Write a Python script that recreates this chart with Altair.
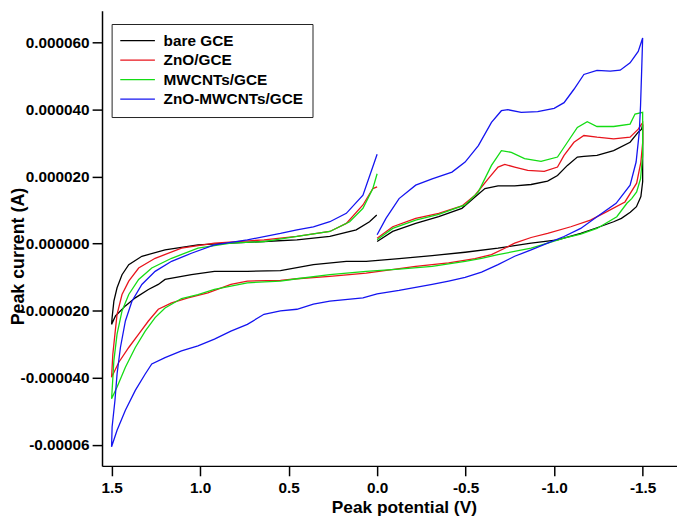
import altair as alt
import pandas as pd

series_names = ["bare GCE", "ZnO/GCE", "MWCNTs/GCE", "ZnO-MWCNTs/GCE"]
series_colors = ["#000000", "#e8141c", "#14dc14", "#1414f0"]

x_ticks = [1.5, 1.0, 0.5, 0.0, -0.5, -1.0, -1.5]
y_ticks = [0.00006, 0.00004, 0.00002, 0.0, -0.00002, -0.00004, -0.00006]

# potential (V) and current (microampere), in scan order
bare_v = [0.0, -0.088, -0.218, -0.348, -0.479, -0.553, -0.609, -0.683, -0.777, -0.870, -0.963, -1.019, -1.075,
          -1.131, -1.168, -1.242, -1.336, -1.429, -1.475, -1.494, -1.5,
          -1.5, -1.49, -1.465, -1.43, -1.38, -1.336, -1.242, -1.150, -1.019, -0.870, -0.683, -0.497, -0.311,
          -0.124, 0.062, 0.174, 0.360, 0.546, 0.733, 0.919, 1.049, 1.198, 1.236, 1.292, 1.366, 1.422, 1.478, 1.5,
          1.497, 1.487, 1.469, 1.441, 1.403, 1.329, 1.198, 1.012, 0.826, 0.639, 0.453, 0.267, 0.118, 0.043, 0.002]
bare_i = [0.6, 3.6, 6.0, 8.0, 10.5, 13.9, 16.4, 17.2, 17.2, 17.6, 18.6, 20.3, 23.3,
          25.8, 26.0, 26.3, 27.7, 30.2, 33.2, 34.1, 35.5,
          18.4, 14.0, 11.0, 9.3, 7.5, 6.5, 4.7, 3.0, 1.1, 0.1, -1.4, -2.6, -3.6,
          -4.5, -5.3, -5.3, -6.3, -8.1, -8.3, -8.3, -9.3, -10.7, -12.2, -13.7, -16.2, -18.6, -21.6, -24.1,
          -22.1, -17.2, -13.2, -9.3, -6.3, -3.8, -1.9, -0.4, 0.1, 0.6, 1.1, 2.1, 4.1, 6.5, 8.5]

zno_v = [0.0, -0.088, -0.218, -0.348, -0.479, -0.553, -0.627, -0.683, -0.721, -0.777, -0.851, -0.944, -1.019,
         -1.056, -1.112, -1.168, -1.242, -1.336, -1.429, -1.475, -1.494, -1.5,
         -1.5, -1.49, -1.466, -1.40, -1.298, -1.205, -1.094, -0.963, -0.870, -0.777, -0.721, -0.646, -0.553,
         -0.404, -0.218, 0.062, 0.267, 0.453, 0.546, 0.733, 0.826, 0.956, 1.068, 1.161, 1.236, 1.292, 1.347,
         1.403, 1.459, 1.5,
         1.493, 1.481, 1.469, 1.441, 1.403, 1.347, 1.254, 1.105, 0.919, 0.639, 0.453, 0.267, 0.174, 0.080,
         0.024, 0.0]
zno_i = [1.6, 5.0, 7.5, 9.0, 11.2, 14.4, 19.3, 22.8, 23.6, 22.8, 21.8, 21.5, 22.8,
         26.3, 30.2, 32.2, 31.7, 31.2, 31.7, 34.1, 35.6, 36.0,
         30.0, 24.3, 18.0, 12.4, 9.5, 7.0, 5.0, 3.0, 1.8, 0.1, -1.4, -3.3, -4.5,
         -5.8, -6.8, -8.8, -9.8, -10.5, -11.0, -11.2, -12.2, -14.7, -16.2, -17.7, -19.6, -23.1, -27.0,
         -31.0, -35.4, -39.9,
         -33.0, -27.0, -21.1, -15.2, -11.2, -7.3, -4.4, -1.4, 0.1, 1.1, 2.1, 3.6, 6.0, 11.5,
         16.4, 16.9]

mw_v = [0.0, -0.088, -0.218, -0.348, -0.497, -0.572, -0.646, -0.702, -0.758, -0.833, -0.926, -1.019, -1.075,
        -1.131, -1.187, -1.242, -1.336, -1.429, -1.457, -1.5,
        -1.5, -1.488, -1.466, -1.438, -1.411, -1.354, -1.242, -1.150, -1.056, -0.963, -0.870, -0.683, -0.590,
        -0.497, -0.311, -0.124, 0.062, 0.267, 0.453, 0.546, 0.733, 0.826, 0.919, 1.012, 1.105, 1.198, 1.254,
        1.310, 1.366, 1.422, 1.469, 1.5,
        1.497, 1.487, 1.469, 1.441, 1.403, 1.347, 1.273, 1.161, 1.012, 0.826, 0.639, 0.453, 0.267, 0.155,
        0.080, 0.024, 0.0]
mw_i = [1.1, 4.5, 7.0, 8.7, 11.5, 15.4, 23.3, 27.7, 27.2, 25.3, 24.5, 25.8, 30.2,
        34.6, 36.3, 34.9, 34.9, 35.6, 38.6, 39.1,
        26.3, 19.3, 15.4, 13.4, 12.0, 8.0, 4.5, 2.8, 1.6, 0.1, -1.4, -3.3, -4.4,
        -5.3, -6.8, -7.6, -8.3, -9.3, -10.5, -11.2, -11.7, -12.7, -13.7, -15.2, -16.4, -19.2, -22.1,
        -26.1, -31.0, -36.9, -42.8, -46.3,
        -43.8, -34.9, -27.0, -20.1, -15.2, -10.7, -7.3, -4.4, -1.4, 0.1, 0.6, 2.1, 3.6, 6.5,
        10.5, 16.4, 20.8]

comp_v = [0.0, -0.050, -0.124, -0.218, -0.311, -0.423, -0.497, -0.572, -0.646, -0.702, -0.739, -0.814, -0.907,
          -1.000, -1.056, -1.112, -1.168, -1.242, -1.317, -1.373, -1.429, -1.475, -1.5,
          -1.494, -1.488, -1.481, -1.463, -1.429, -1.35, -1.242, -1.150, -1.056, -0.963, -0.870, -0.777,
          -0.683, -0.590, -0.497, -0.404, -0.311, -0.124, 0.0, 0.080, 0.267, 0.360, 0.453, 0.546, 0.639,
          0.733, 0.826, 0.919, 1.012, 1.105, 1.198, 1.273, 1.310, 1.366, 1.422, 1.469, 1.5,
          1.497, 1.481, 1.469, 1.450, 1.422, 1.385, 1.329, 1.254, 1.161, 1.049, 0.919, 0.733, 0.546, 0.453,
          0.360, 0.267, 0.174, 0.080, 0.015, 0.0]
comp_i = [2.6, 7.5, 13.4, 17.4, 19.3, 21.3, 24.3, 29.2, 36.1, 39.6, 39.9, 39.1, 39.3,
          40.3, 42.0, 46.0, 50.4, 51.6, 51.4, 51.7, 53.9, 57.3, 61.3,
          50.9, 41.1, 33.2, 24.3, 17.4, 12.0, 8.0, 4.5, 2.1, 0.1, -1.9, -3.8,
          -6.3, -8.5, -10.1, -11.2, -12.2, -14.0, -15.0, -16.2, -17.2, -18.1, -19.6, -20.1, -21.1,
          -24.1, -26.1, -28.5, -30.5, -32.0, -34.0, -35.9, -38.9, -43.8, -49.7, -55.7, -60.6,
          -54.7, -46.8, -38.9, -31.0, -23.1, -17.2, -12.2, -8.3, -5.3, -2.9, -0.4, 1.1, 3.0, 4.1,
          5.0, 6.5, 9.0, 14.4, 24.3, 26.6]

rows = []
for name, vs, cs in zip(series_names, [bare_v, zno_v, mw_v, comp_v], [bare_i, zno_i, mw_i, comp_i]):
    for k, (v, c) in enumerate(zip(vs, cs)):
        rows.append({"series": name, "idx": k, "potential": v, "current": c * 1e-6})
df = pd.DataFrame(rows)

FONT = "Liberation Sans"

x_axis = alt.Axis(
    values=x_ticks,
    title="Peak potential (V)",
    labelExpr="(datum.value < -0.01 ? '-' : '') + format(abs(datum.value), '.1f')",
    labelFontSize=15.5, labelPadding=5, tickSize=10,
    titleFontSize=17.5, titleX=305, titleY=47, titleBaseline="alphabetic", titleAlign="center",
)
y_axis = alt.Axis(
    values=y_ticks,
    title="Peak current (A)",
    labelExpr="abs(datum.value) < 1e-9 ? '0.000000' : (datum.value < -5.5e-5 ? '-0.00006' : "
              "(datum.value < 0 ? '-' : '') + format(abs(datum.value), '.6f'))",
    labelFontSize=15.5, labelPadding=3, tickSize=10,
    titleFontSize=18, titleAngle=270, titleBaseline="top", titleX=-93, titleY=248, titleAlign="center",
)

chart = alt.Chart(df).mark_line(strokeWidth=1.3).encode(
    x=alt.X("potential:Q", scale=alt.Scale(domain=[-1.694, 1.554], reverse=True, nice=False, zero=False),
            axis=x_axis),
    y=alt.Y("current:Q", scale=alt.Scale(domain=[-66.3e-6, 69.44e-6], nice=False, zero=False), axis=y_axis),
    color=alt.Color("series:N", sort=series_names,
                    scale=alt.Scale(domain=series_names, range=series_colors),
                    legend=alt.Legend(
                        title=None, orient="none", legendX=9.7, legendY=13.5,
                        symbolType="M-1.6,0H5.4", symbolSize=100, symbolStrokeWidth=1.3,
                        labelFont=FONT, labelFontSize=15.5, labelFontWeight="bold", labelColor="black",
                        labelOffset=28, labelLimit=300,
                        strokeColor="#222222", fillColor="white", padding=9, rowPadding=2.7,
                        cornerRadius=0,
                    )),
    order="idx:Q",
).properties(
    width=581, height=460,
    autosize=alt.AutoSizeParams(type="none"),
    padding={"left": 95, "top": 0, "right": 0, "bottom": 51},
).configure_view(stroke=None).configure_axis(
    grid=False, domainColor="black", domainWidth=1.5, tickColor="black", tickWidth=1.5,
    labelFont=FONT, labelFontWeight="bold", labelColor="black",
    titleFont=FONT, titleFontWeight="bold", titleColor="black",
)

chart.save("out.html", embed_options={"renderer": "svg", "actions": False})
